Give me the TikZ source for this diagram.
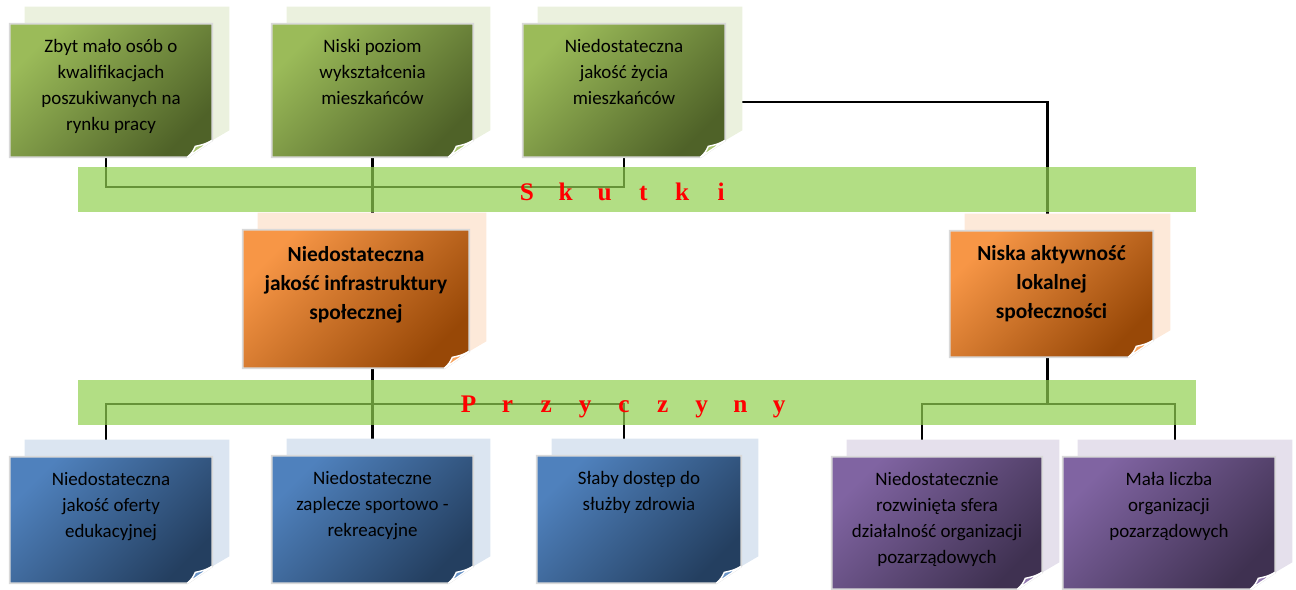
\documentclass[tikz,border=0pt]{standalone}
\usepackage{fontspec}
\setmainfont{Carlito}
\newfontfamily\barfont{Liberation Serif}
\usepackage{tikz}
\usetikzlibrary{positioning, calc, backgrounds}
\definecolor{notegreen}{HTML}{9BBB59}
\definecolor{notegreendark}{HTML}{4F6228}
\definecolor{notegreenback}{HTML}{EBF1DE}
\definecolor{noteorange}{HTML}{F79646}
\definecolor{noteorangedark}{HTML}{984807}
\definecolor{noteorangeback}{HTML}{FDE9D9}
\definecolor{noteblue}{HTML}{4F81BD}
\definecolor{notebluedark}{HTML}{243F60}
\definecolor{noteblueback}{HTML}{DBE5F1}
\definecolor{notepurple}{HTML}{8064A2}
\definecolor{notepurpledark}{HTML}{3F3151}
\definecolor{notepurpleback}{HTML}{E5E0EC}
\definecolor{barfill}{HTML}{92D050}

\pgfdeclarelayer{lines}
\pgfdeclarelayer{sheets}
\pgfsetlayers{lines,sheets,main}

% paper sheet behind a node: back page, shaded front page, curled corner
\newcommand{\sheet}[2]{%
  \begin{pgfonlayer}{sheets}
    \fill[#2back] ($(#1.north west)+(15,-17)$) -- ($(#1.north east)+(17,-17)$)
      -- ($(#1.south east)+(17,-27)$) -- ($(#1.south east)+(0,-17)$) -- ($(#1.south west)+(15,0)$) -- cycle;
    \path[top color=#2, bottom color=#2dark, shading angle=45, draw=white!85!black, line width=1pt]
      (#1.north west) -- (#1.north east) -- ($(#1.south east)+(0,-17)$)
      -- ($(#1.south east)+(-25,0)$) -- (#1.south west) -- cycle;
    \filldraw[fill=#2!85!white, draw=white, line width=0.8pt] ($(#1.south east)+(0,-17)$)
      .. controls ($(#1.south east)+(-8,-13)$) .. ($(#1.south east)+(-17,-11)$)
      .. controls ($(#1.south east)+(-20,-5)$) .. ($(#1.south east)+(-25,0)$) -- cycle;
  \end{pgfonlayer}}
\newcommand{\barletter}[1]{\makebox[22.1pt]{#1}}

\begin{document}
\begin{tikzpicture}[x=0.02cm, y=-0.02cm,
    note/.style={inner sep=0pt},
    notetext/.style={align=center, inner sep=0pt, text=black, font=\fontsize{10.8}{14.9}\selectfont},
    boldtext/.style={notetext, font=\fontsize{12.2}{16.5}\selectfont\bfseries},
    bar/.style={fill=barfill, fill opacity=0.7, minimum width=22.36cm, minimum height=0.9cm, inner sep=0pt},
    bartext/.style={anchor=base, inner sep=0pt, text=red, font=\barfont\fontsize{14.4}{17}\selectfont\bfseries},
    conn/.style={line width=1.3pt, black}
]
\useasboundingbox (0,0) rectangle (1296,590);

% Skutki (top row)
\node[note, minimum width=4.04cm, minimum height=2.66cm] (a1) at (111,90.5) {};
\node[notetext, below=0.3cm of a1.north] (a1t) {Zbyt mało osób o\\kwalifikacjach\\poszukiwanych na\\rynku pracy};
\sheet{a1}{notegreen}
\node[note, minimum width=4.02cm, minimum height=2.66cm] (a2) at (372.5,90.5) {};
\node[notetext, below=0.3cm of a2.north] (a2t) {Niski poziom\\wykształcenia\\mieszkańców};
\sheet{a2}{notegreen}
\node[note, minimum width=4.04cm, minimum height=2.66cm] (a3) at (624,90.5) {};
\node[notetext, below=0.3cm of a3.north] (a3t) {Niedostateczna\\jakość życia\\mieszkańców};
\sheet{a3}{notegreen}

% Problems
\node[note, minimum width=4.52cm, minimum height=2.76cm] (o1) at (356,299) {};
\node[boldtext, below=0.32cm of o1.north] (o1t) {Niedostateczna\\jakość infrastruktury\\społecznej};
\sheet{o1}{noteorange}
\node[note, minimum width=4.06cm, minimum height=2.52cm] (o2) at (1051.5,294) {};
\node[boldtext, below=0.28cm of o2.north] (o2t) {Niska aktywność\\lokalnej\\społeczności};
\sheet{o2}{noteorange}

% Przyczyny (bottom row)
\node[note, minimum width=4.04cm, minimum height=2.52cm] (d1) at (111,520) {};
\node[notetext, below=0.3cm of d1.north] (d1t) {Niedostateczna\\jakość oferty\\edukacyjnej};
\sheet{d1}{noteblue}
\node[note, minimum width=4.02cm, minimum height=2.54cm] (d2) at (372.5,519.5) {};
\node[notetext, below=0.3cm of d2.north] (d2t) {Niedostateczne\\zaplecze sportowo -\\rekreacyjne};
\sheet{d2}{noteblue}
\node[note, minimum width=4.08cm, minimum height=2.54cm] (d3) at (639,519.5) {};
\node[notetext, below=0.3cm of d3.north] (d3t) {Słaby dostęp do\\służby zdrowia};
\sheet{d3}{noteblue}
\node[note, minimum width=4.2cm, minimum height=2.64cm] (d4) at (937,523) {};
\node[notetext, below=0.3cm of d4.north] (d4t) {Niedostatecznie\\rozwinięta sfera\\działalność organizacji\\pozarządowych};
\sheet{d4}{notepurple}
\node[note, minimum width=4.24cm, minimum height=2.64cm] (d5) at (1169,523) {};
\node[notetext, below=0.3cm of d5.north] (d5t) {Mała liczba\\organizacji\\pozarządowych};
\sheet{d5}{notepurple}

% Connectors
\begin{pgfonlayer}{lines}
\draw[conn] ([xshift=-0.1cm]a1.south) -- ++(0,30) -| (a3.south);
\draw[conn] (a2.south) -- (d2.north);
\draw[conn] ([yshift=-0.23cm]a3.east) -| ([xshift=-0.08cm]o2.north);
\draw[conn] ([xshift=-0.1cm]d1.north) -- ++(0,-53) -| (d3.north -| a3.south);
\draw[conn] ([xshift=-0.08cm]o2.south) -- ++(0,47);
\draw[conn] ([xshift=-0.3cm]d4.north) -- ++(0,-53) -| ([xshift=0.12cm]d5.north);
\end{pgfonlayer}

% Bars
\node[bar] (skutkibar) at (637,189.5) {};
\node[bartext] (skutki) at (624,200.5) {\barletter{S}\barletter{k}\barletter{u}\barletter{t}\barletter{k}\barletter{i}};
\node[bar] (przyczynybar) at (637,402.5) {};
\node[bartext] (przyczyny) at (624,412.5) {\barletter{P}\barletter{r}\barletter{z}\barletter{y}\barletter{c}\barletter{z}\barletter{y}\barletter{n}\barletter{y}};
\end{tikzpicture}
\end{document}
